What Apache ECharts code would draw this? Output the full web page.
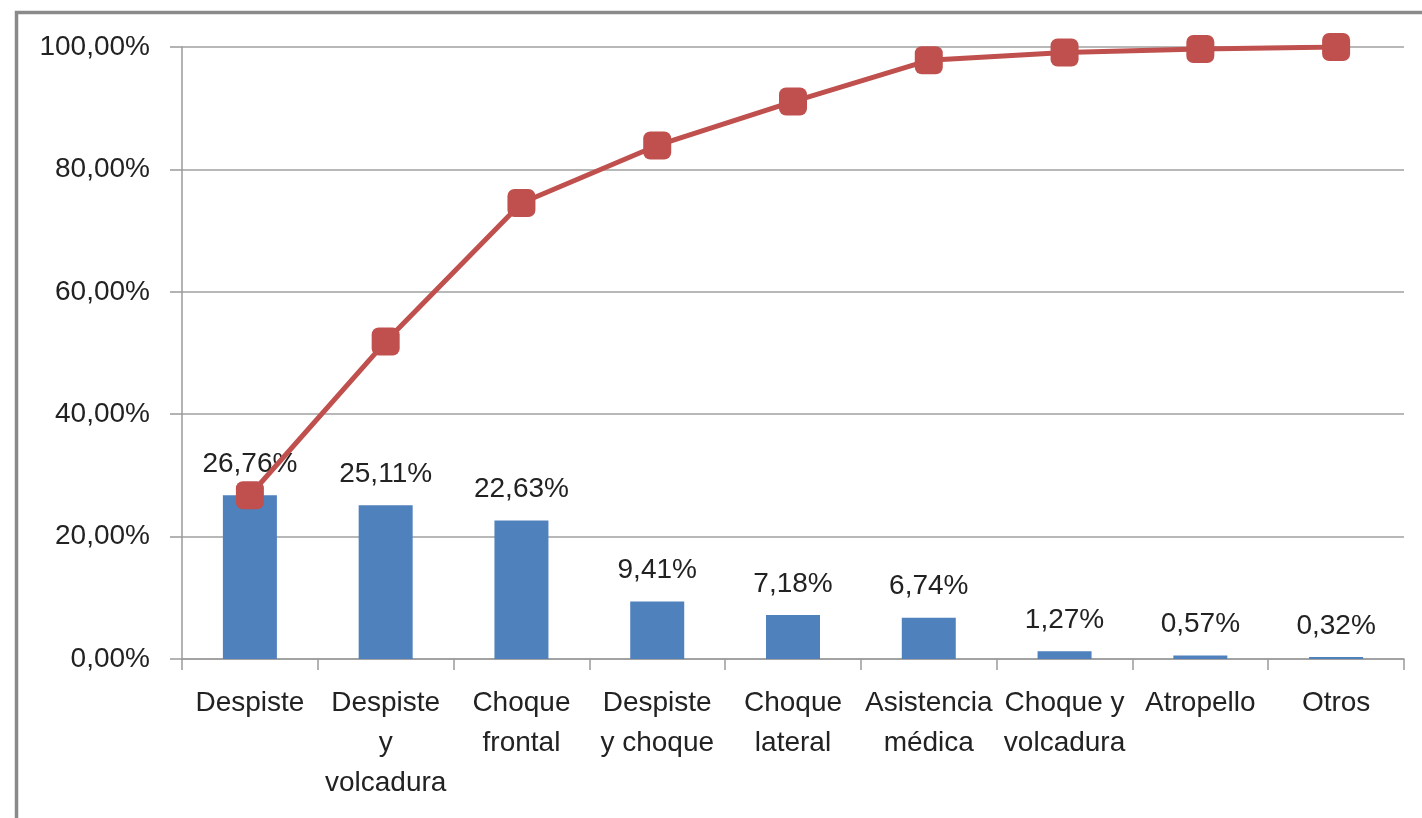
<!DOCTYPE html>
<html>
<head>
<meta charset="utf-8">
<script src="https://cdn.jsdelivr.net/npm/echarts@6/dist/echarts.min.js"></script>
<style>html,body{margin:0;padding:0;background:#fff}#c{width:1422px;height:818px}</style>
</head>
<body>
<div id="c"></div>
<script>
const categories = ['Despiste', 'Despiste\ny\nvolcadura', 'Choque\nfrontal', 'Despiste\ny choque', 'Choque\nlateral', 'Asistencia\nmédica', 'Choque y\nvolcadura', 'Atropello', 'Otros'];
const shareValues = [26.76, 25.11, 22.63, 9.41, 7.18, 6.74, 1.27, 0.57, 0.32];
const cumulativeValues = [26.76, 51.87, 74.50, 83.91, 91.09, 97.83, 99.10, 99.67, 100.00];
const yTicks = [0, 20, 40, 60, 80, 100];

const fmt = v => Number(v).toFixed(2).replace('.', ',') + '%';
const font = '"Liberation Sans", Arial, sans-serif';
const chart = echarts.init(document.getElementById('c'));
chart.setOption({
  animation: false,
  backgroundColor: '#fff',
  graphic: [{
    type: 'rect', left: 14, top: 10, z: 100, silent: true,
    shape: { x: 0, y: 0, width: 2000, height: 2000 },
    style: { fill: 'none', stroke: '#8a8a8a', lineWidth: 3.5 }
  }],
  grid: { left: 182, right: 18, top: 47, bottom: 159 },
  xAxis: {
    type: 'category',
    data: categories,
    axisLine: { lineStyle: { color: '#9a9a9a', width: 1.5 } },
    axisTick: { show: true, length: 11, alignWithLabel: false, lineStyle: { color: '#9a9a9a', width: 1.5 } },
    axisLabel: { interval: 0, fontSize: 28, lineHeight: 40, color: '#222', fontFamily: font, margin: 24 }
  },
  yAxis: {
    type: 'value',
    min: yTicks[0], max: yTicks[yTicks.length - 1], interval: 20,
    axisLine: { show: true, lineStyle: { color: '#9a9a9a', width: 1.5 } },
    axisTick: { show: true, length: 12, lineStyle: { color: '#9a9a9a', width: 1.5 } },
    splitLine: { lineStyle: { color: '#a0a0a0', width: 1.5 } },
    axisLabel: { fontSize: 28, color: '#222', fontFamily: font, margin: 32, formatter: fmt }
  },
  series: [{
    type: 'bar',
    data: shareValues,
    barWidth: 54,
    itemStyle: { color: '#4F81BD' },
    label: { show: true, position: 'top', distance: 17, fontSize: 28, color: '#222', fontFamily: font, formatter: p => fmt(p.value) },
    z: 2
  }, {
    type: 'line',
    data: cumulativeValues,
    lineStyle: { color: '#C0504D', width: 5 },
    itemStyle: { color: '#C0504D' },
    symbol: 'roundRect',
    symbolSize: 28,
    z: 3
  }]
});
</script>
</body>
</html>
